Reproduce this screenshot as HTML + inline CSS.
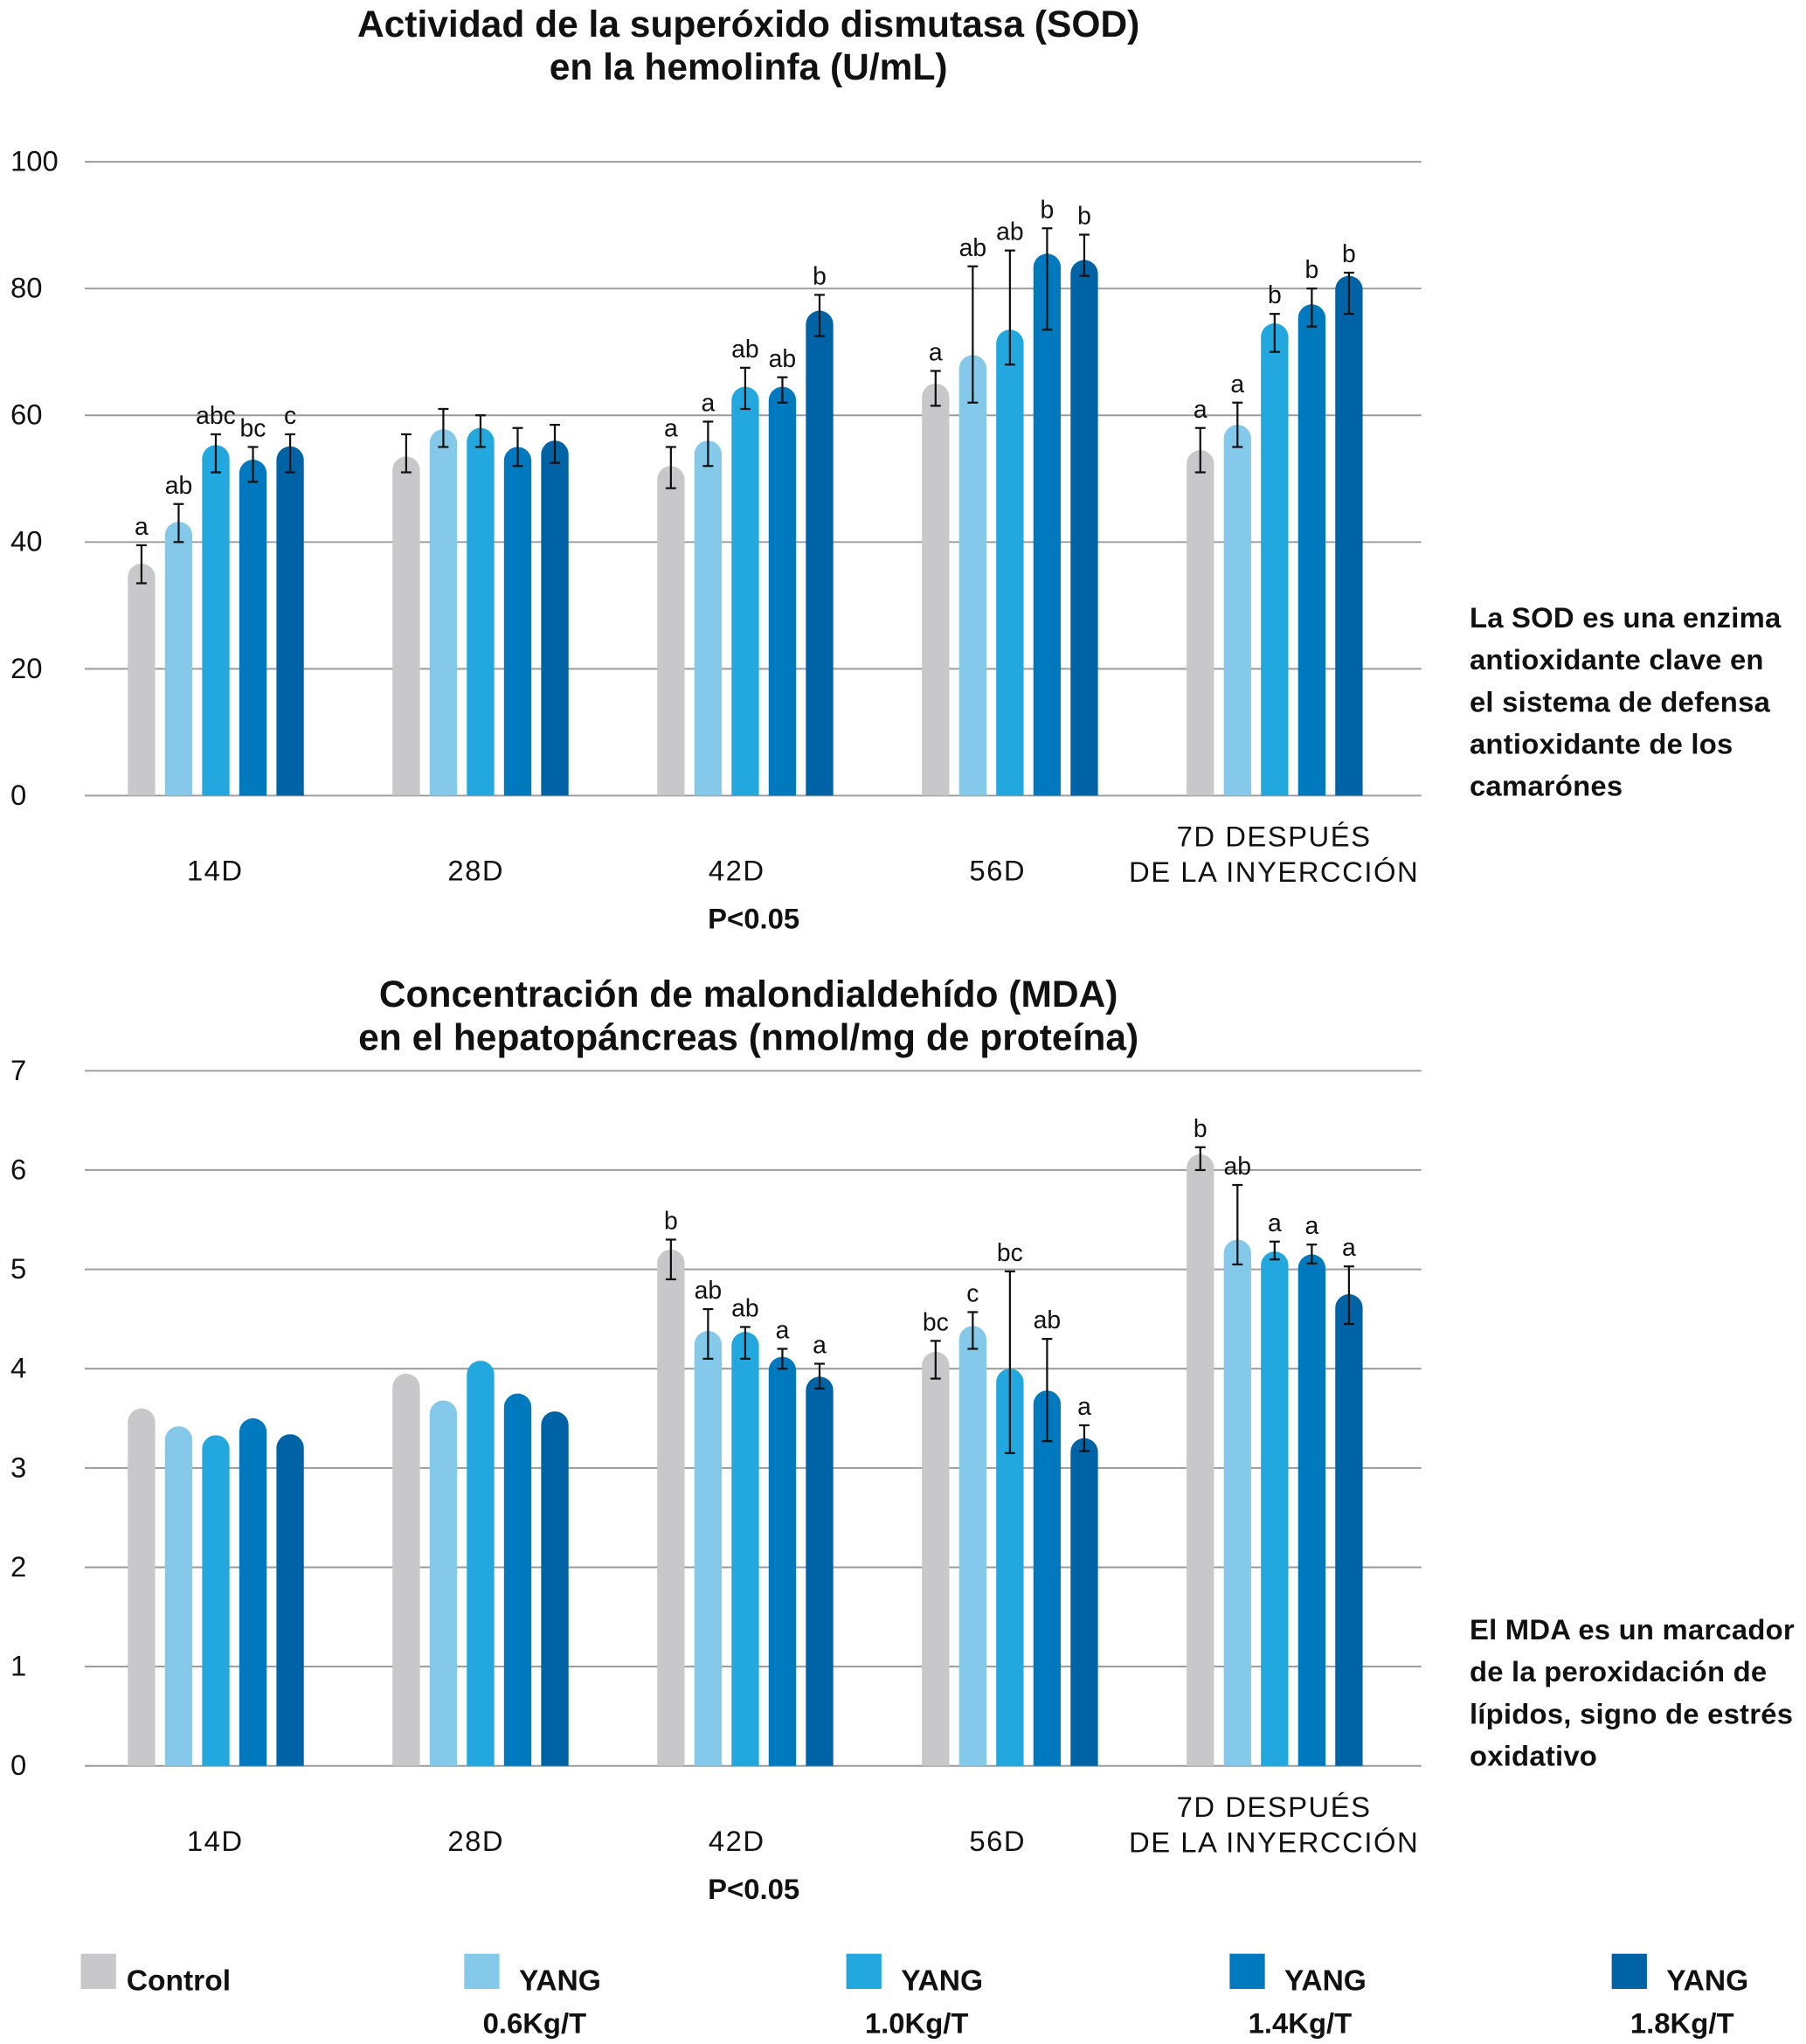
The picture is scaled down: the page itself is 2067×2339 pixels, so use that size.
<!DOCTYPE html>
<html><head><meta charset="utf-8">
<style>
html,body{margin:0;padding:0;background:#fff}
svg{display:block}
text{font-family:"Liberation Sans",Arial,sans-serif}
</style></head>
<body>
<svg id="root" width="2067" height="2339" viewBox="0 0 1385 1567.2" xmlns="http://www.w3.org/2000/svg">
<rect width="1385" height="1567.2" fill="#fff"/>
<g id="sod"></g>
<g id="mda"></g>
<g id="legend"></g>
</svg>
<script>
const categories = ["14D","28D","42D","56D","7D DESPUÉS|DE LA INYERCCIÓN"];
const seriesNames = ["Control","YANG 0.6Kg/T","YANG 1.0Kg/T","YANG 1.4Kg/T","YANG 1.8Kg/T"];
const colors = ["#c8c8ca","#85c9ea","#22a7df","#0079be","#0063a5"];

const sodValues = [
 [36.6,53.5,52,65,54.5],
 [43.2,57.8,56,69.5,58.5],
 [55.3,58,64.5,73.5,74.5],
 [53,55,64.5,85.5,77.5],
 [55.1,56,76.5,84.5,82]
];
const sodErrLow = [
 [33.5,51,48.5,61.5,51],
 [40,55,52,62,55],
 [51,55,61,68,70],
 [49.5,52,62,73.5,74],
 [51,52.5,72.5,82,76]
];
const sodErrHigh = [
 [39.5,57,55,67,58],
 [46,61,59,83.5,62],
 [57,60,67.5,86,76],
 [55,58,66,89.5,80],
 [57,58.5,79,88.5,82.5]
];
const sodLetters = [
 ["a","","a","a","a"],
 ["ab","","a","ab","a"],
 ["abc","","ab","ab","b"],
 ["bc","","ab","b","b"],
 ["c","","b","b","b"]
];
const sodTicks = [0,20,40,60,80,100];

const mdaValues = [
 [3.6,3.95,5.2,4.17,6.16],
 [3.42,3.68,4.38,4.43,5.3],
 [3.33,4.08,4.37,4.0,5.18],
 [3.5,3.75,4.12,3.78,5.15],
 [3.34,3.57,3.92,3.3,4.75]
];
const mdaErrLow = [
 [null,null,4.9,3.9,6.0],
 [null,null,4.1,4.2,5.05],
 [null,null,4.1,3.15,5.1],
 [null,null,4.0,3.27,5.06],
 [null,null,3.8,3.17,4.45]
];
const mdaErrHigh = [
 [null,null,5.3,4.28,6.23],
 [null,null,4.6,4.57,5.85],
 [null,null,4.42,4.98,5.28],
 [null,null,4.2,4.3,5.25],
 [null,null,4.05,3.43,5.03]
];
const mdaLetters = [
 ["","","b","bc","b"],
 ["","","ab","c","ab"],
 ["","","ab","bc","a"],
 ["","","a","ab","a"],
 ["","","a","a","a"]
];
const mdaTicks = [0,1,2,3,4,5,6,7];

const NS="http://www.w3.org/2000/svg";
function mk(parent,tag,attrs,txt){
  const e=document.createElementNS(NS,tag);
  for(const k in attrs) e.setAttribute(k,attrs[k]);
  if(txt!==undefined) e.textContent=txt;
  parent.appendChild(e); return e;
}
function groupX(i){ return 165.5+203*i; }
function labelX(i){ return i===4 ? 977 : 165+200*i; }
function barX(i,s){ return groupX(i)+(s-2)*28.5; }

function drawChart(g,cfg){
  const y=v=>cfg.y0-(v-cfg.min)/(cfg.max-cfg.min)*(cfg.y0-cfg.y1);
  cfg.title.forEach((t,k)=>{
    const e=mk(g,"text",{x:574,y:cfg.titleY+k*33,"text-anchor":"middle","font-size":28.5,"font-weight":"bold",fill:"#111"},t);
    
    
  });
  cfg.ticks.forEach(t=>{
    const l=mk(g,"line",{x1:65,x2:1090,y1:y(t),y2:y(t),stroke:"#9a9a9a","stroke-width":1.3});
    
    
    const tx=mk(g,"text",{x:8,y:y(t)+7,"font-size":22,fill:"#111"},String(t));
    
    
  });
  categories.forEach((c,i)=>{
    const parts=c.split("|");
    parts.forEach((p,k)=>{
      const ty = parts.length>1 ? cfg.y0+39+k*27 : cfg.y0+65;
      const e=mk(g,"text",{x:labelX(i),y:ty,"text-anchor":"middle","font-size":22,fill:"#111","letter-spacing":1},p);
      
      
    });
  });
  const p=mk(g,"text",{x:578,y:cfg.y0+102,"text-anchor":"middle","font-size":22,"font-weight":"bold",fill:"#111"},"P<0.05");
  
  
  const w=21,r=w/2;
  cfg.values.forEach((ser,s)=>{
    ser.forEach((v,i)=>{
      const cx=barX(i,s), top=y(v), bot=y(cfg.min);
      const d=`M${cx-r},${bot} L${cx-r},${top+r} A${r},${r} 0 0 1 ${cx+r},${top+r} L${cx+r},${bot} Z`;
      const b=mk(g,"path",{d:d,fill:colors[s]});
      
      
      const lo=cfg.lo[s][i], hi=cfg.hi[s][i];
      let labY=top-8;
      if(lo!=null){
        const eg=mk(g,"g",{stroke:"#111","stroke-width":1.5});
        
        
        mk(eg,"line",{x1:cx,x2:cx,y1:y(lo),y2:y(hi)});
        mk(eg,"line",{x1:cx-4,x2:cx+4,y1:y(lo),y2:y(lo)});
        mk(eg,"line",{x1:cx-4,x2:cx+4,y1:y(hi),y2:y(hi)});
        labY=y(hi)-8;
      }
      const L=cfg.letters[s][i];
      if(L){
        const t=mk(g,"text",{x:cx,y:labY,"text-anchor":"middle","font-size":19,fill:"#111"},L);
        
        
      }
    });
  });
  cfg.note.forEach((t,k)=>{
    const e=mk(g,"text",{x:1127,y:cfg.noteY+k*32.3,"font-size":22,"font-weight":"bold",fill:"#111","letter-spacing":0.15},t);
    
    
  });
}

drawChart(document.getElementById("sod"),{
  min:0,max:100,y0:610,y1:124,ticks:sodTicks,values:sodValues,lo:sodErrLow,hi:sodErrHigh,letters:sodLetters,
  title:["Actividad de la superóxido dismutasa (SOD)","en la hemolinfa (U/mL)"],titleY:28,
  note:["La SOD es una enzima","antioxidante clave en","el sistema de defensa","antioxidante de los","camarónes"],noteY:481
});
drawChart(document.getElementById("mda"),{
  min:0,max:7,y0:1354,y1:821,ticks:mdaTicks,values:mdaValues,lo:mdaErrLow,hi:mdaErrHigh,letters:mdaLetters,
  title:["Concentración de malondialdehído (MDA)","en el hepatopáncreas (nmol/mg de proteína)"],titleY:772,
  note:["El MDA es un marcador","de la peroxidación de","lípidos, signo de estrés","oxidativo"],noteY:1257
});

const lg=document.getElementById("legend");
const legX=[62,356,649,943,1236];
seriesNames.forEach((n,s)=>{
  const item=mk(lg,"g",{});
  
  
  mk(item,"rect",{x:legX[s],y:1498,width:27,height:27,fill:colors[s]});
  if(s===0){
    mk(item,"text",{x:legX[s]+35,y:1526,"font-size":22.5,"font-weight":"bold",fill:"#111"},"Control");
  } else {
    mk(item,"text",{x:legX[s]+42,y:1526,"font-size":22.5,"font-weight":"bold",fill:"#111"},"YANG");
    mk(item,"text",{x:legX[s]+54,y:1559,"text-anchor":"middle","font-size":22,"font-weight":"bold",fill:"#111"},n.split(" ")[1]);
  }
});
</script>
</body></html>
